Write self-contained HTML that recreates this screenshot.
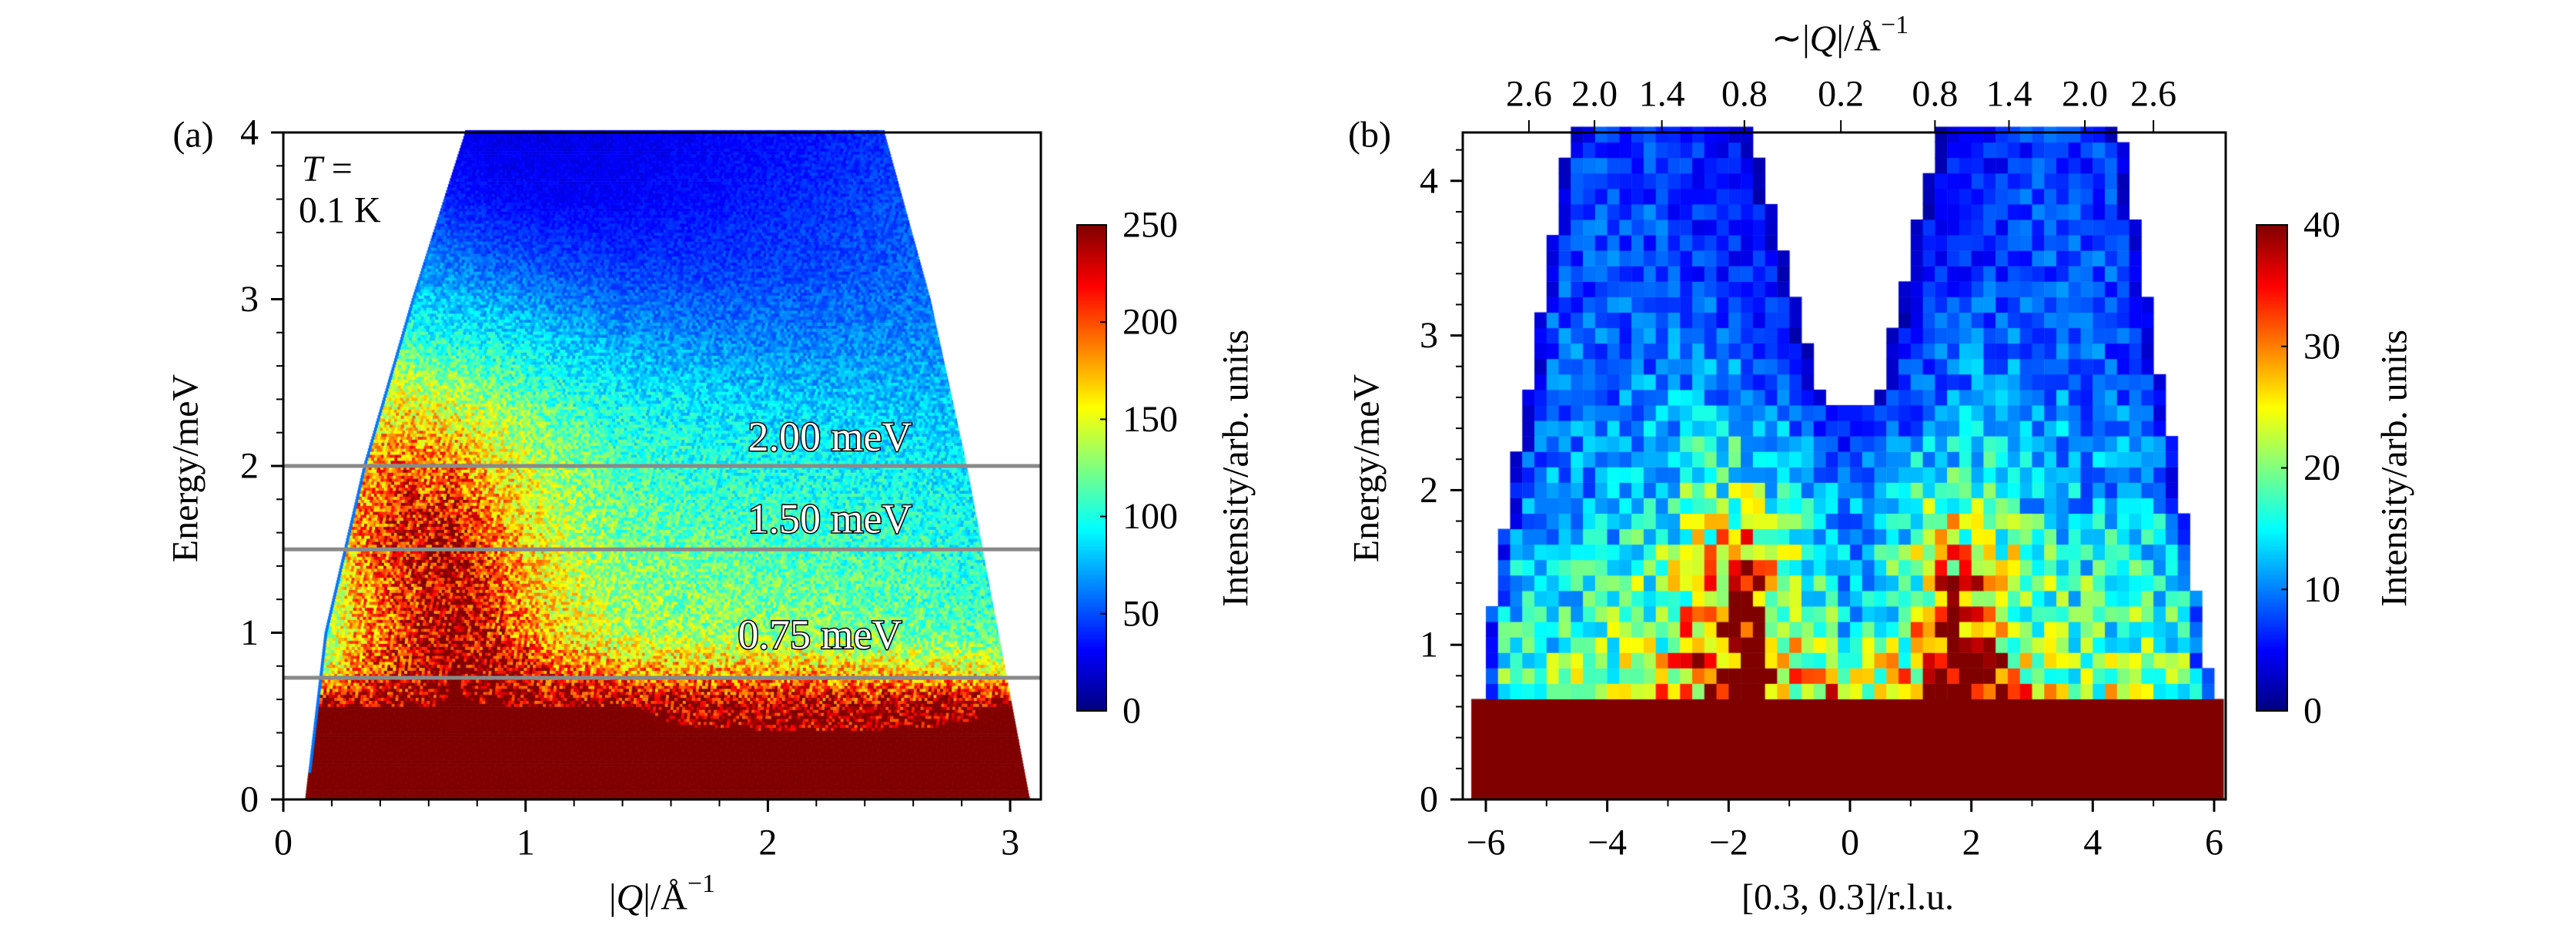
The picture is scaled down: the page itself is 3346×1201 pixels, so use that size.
<!DOCTYPE html>
<html><head><meta charset="utf-8">
<style>
html,body{margin:0;padding:0;background:#fff;}
#root{position:relative;width:3346px;height:1201px;overflow:hidden;font-family:"Liberation Serif",serif;}
canvas,svg{position:absolute;left:0;top:0;}
</style></head>
<body>
<div id="root">
<canvas id="cv" width="3346" height="1201"></canvas>
<svg id="sv" width="3346" height="1201"></svg>
</div>
<script>
// ---------- Panel (a) data ----------
const aQ = [0.1,0.3,0.5,0.7,0.9,1.1,1.4,1.8,2.2,2.6,3.0];
const aE = [0.4,0.55,0.75,1.0,1.3,1.6,2.0,2.4,2.8,3.2,3.6,4.0];
const aI = [
 [250,250,250,250,250,250,250,250,250,250,250],
 [250,250,250,250,250,250,250,245,240,245,250],
 [130,190,220,250,240,210,185,180,180,170,160],
 [90,175,215,245,210,165,135,130,125,120,110],
 [80,175,210,240,195,155,128,122,118,112,100],
 [80,185,225,230,185,145,122,112,108,102,95],
 [70,170,200,190,160,135,110,100,95,92,88],
 [60,140,150,140,125,110,95,85,80,78,78],
 [50,100,105,95,88,80,68,62,62,64,66],
 [40,70,70,62,55,50,45,45,48,55,58],
 [35,50,45,38,32,30,30,35,42,50,55],
 [35,42,36,28,24,24,26,30,36,45,50]];
const aLeftE = [0,1,2,3,4], aLeftQ = [0.09,0.17,0.33,0.53,0.75];
const aRightE = [0,1,2,3,4], aRightQ = [3.08,2.95,2.82,2.67,2.48];
const aCuts = [2.0,1.5,0.73];
const aCutLabels = ["2.00 meV","1.50 meV","0.75 meV"];
const aXTicks = [0,1,2,3], aYTicks = [0,1,2,3,4];
const aCbTicks = [0,50,100,150,200,250];
// ---------- Panel (b) data ----------
const bX = [-6,-5,-4,-3,-2.5,-1.75,-1,0,1,1.6,2.5,3,4,5,6];
const bE = [0.65,1.0,1.2,1.5,1.8,2.1,2.5,3.0,3.5,4.3];
const bI = [
 [20,20,22,28,34,48,30,28,30,48,34,24,22,22,22],
 [14,16,18,22,30,44,26,16,22,44,28,20,18,18,18],
 [13,15,17,21,28,40,23,13,20,36,26,19,17,17,16],
 [12,14,15,19,26,32,20,12,18,30,24,18,16,15,14],
 [10,12,13,16,21,24,17,11,16,23,19,15,13,13,12],
 [8,10,11,13,16,17,13,8,13,17,15,12,11,11,10],
 [7,9,10,11,12,12,9,4,9,12,12,11,10,9,8],
 [6,8,9,9,9,8,6,4,6,8,9,9,8,8,7],
 [5,7,8,8,7,6,5,4,5,6,7,8,8,7,6],
 [5,6,7,7,6,5,4,4,4,5,6,7,7,6,5]];
const bOuterE = [0.65,1.0,4.3], bOuterL = [-6.0,-6.0,-4.64], bOuterR = [5.95,5.84,4.48];
const bInnerE = [2.55,4.3], bInnerL = [-0.45,-1.58], bInnerR = [0.45,1.42];
const bXTicks = [-6,-4,-2,0,2,4,6], bYTicks = [0,1,2,3,4];
const bTopPos = [-5.29,-4.21,-3.10,-1.74,-0.15,1.40,2.62,3.87,5.0];
const bTopLab = ["2.6","2.0","1.4","0.8","0.2","0.8","1.4","2.0","2.6"];
const bCbTicks = [0,10,20,30,40];

// ---------- helpers ----------
function jet(v){
  v=Math.max(0,Math.min(1,v));
  function c(x){return Math.max(0,Math.min(1,x));}
  const r=c(Math.min(4*v-1.5,-4*v+4.5)), g=c(Math.min(4*v-0.5,-4*v+3.5)), b=c(Math.min(4*v+0.5,-4*v+2.5));
  return 'rgb('+Math.round(r*255)+','+Math.round(g*255)+','+Math.round(b*255)+')';
}
function interp1(xs,ys,x){
  if(x<=xs[0])return ys[0]; if(x>=xs[xs.length-1])return ys[ys.length-1];
  for(let i=0;i<xs.length-1;i++){ if(x<=xs[i+1]){const t=(x-xs[i])/(xs[i+1]-xs[i]);return ys[i]+t*(ys[i+1]-ys[i]);} }
}
function bilin(xs,es,grid,x,e){
  const col=xs.map((_,j)=>interp1(es,grid.map(r=>r[j]),e));
  return interp1(xs,col,x);
}
// deterministic texture (visual grain only)
function grain(i,j){let h=(i*374761393+j*668265263)|0;h=(h^(h>>>13))*1274126177|0;h=h^(h>>>16);return ((h>>>0)%10000)/10000-0.5;}
const ax=q=>368+q*314.7, ay=e=>1038-e*216.5;
const bx=x=>1930+(x+6)*78.83, by=e=>1038-e*200.8;
const cbY=(v,max)=>923-(v/max)*(923-292);

const cv=document.getElementById('cv'), ctx=cv.getContext('2d');
// panel a heatmap
const dq=0.012, de=0.018;
let ie=0;
for(let e=0;e<4;e+=de,ie++){
  const ql=interp1(aLeftE,aLeftQ,e+de/2), qr=interp1(aRightE,aRightQ,e+de/2);
  for(let q=ql;q<qr;q+=dq){
    let v=bilin(aQ,aE,aI,q+dq/2,e+de/2);
    if(v<249) v*=1+0.45*grain(ie,Math.round(q/dq));
    if(q-ql<0.01 && e>0.15) v=Math.min(v,60);
    ctx.fillStyle=jet(v/250);
    const xa=ax(q), xb=ax(Math.min(q+dq,qr));
    ctx.fillRect(xa,ay(e+de),xb-xa+0.6,ay(e)-ay(e+de)+0.6);
  }
}
// panel b heatmap
ctx.fillStyle=jet(1);
ctx.fillRect(bx(-6.24),by(0.65),bx(6.16)-bx(-6.24),by(0)-by(0.65));
const cw=0.2, ch=0.1;
let je=0;
for(let e=0.65;e<4.3-1e-6;e+=ch,je++){
  const em=e+ch/2;
  const ol=interp1(bOuterE,bOuterL,em), orr=interp1(bOuterE,bOuterR,em);
  let jx=0;
  for(let x=-6.2;x<6.2;x+=cw,jx++){
    const xm=x+cw/2;
    if(xm<ol||xm>orr) continue;
    let il=99,ir=-99;
    if(em>bInnerE[0]){ il=interp1(bInnerE,bInnerL,em); ir=interp1(bInnerE,bInnerR,em); if(xm>il&&xm<ir) continue; }
    let v=bilin(bX,bE,bI,xm,em);
    v*=1+0.8*grain(je+50,jx+7);
    if(xm-ol<0.2||orr-xm<0.2) v*=0.5;
    if(em>bInnerE[0]-0.15 && (Math.abs(xm-il)<0.2||Math.abs(xm-ir)<0.2)) v*=0.45;
    ctx.fillStyle=jet(v/40);
    ctx.fillRect(bx(x),by(e+ch),bx(x+cw)-bx(x)+0.5,by(e)-by(e+ch)+0.5);
  }
}
// colorbars
for(let y=292;y<923;y++){ ctx.fillStyle=jet((923-y)/631); ctx.fillRect(1399,y,38,1); ctx.fillRect(2931,y,40,1); }

// ---------- SVG overlay ----------
const NS='http://www.w3.org/2000/svg', sv=document.getElementById('sv');
function el(t,at,txt){const e=document.createElementNS(NS,t);for(const k in at)e.setAttribute(k,at[k]);if(txt!==undefined)e.textContent=txt;sv.appendChild(e);return e;}
function line(x1,y1,x2,y2,w,c){return el('line',{x1,y1,x2,y2,stroke:c||'#000','stroke-width':w||3});}
function text(x,y,s,anchor,size,extra){const a={x,y,'font-size':size||48,'text-anchor':anchor||'middle','dominant-baseline':'central','font-family':'Liberation Serif, serif'};if(extra)for(const k in extra)a[k]=extra[k];return el('text',a,s);}

aCuts.forEach((c,i)=>{
  const l=line(368,ay(c),1352,ay(c),5,'#8a8a8a');
  
  
});
const cutLabY=[ay(2.0)-38, ay(1.5)-40, ay(0.73)-56];
const cutLabX=[1078,1078,1065];
aCutLabels.forEach((s,i)=>{
  const t=text(cutLabX[i],cutLabY[i],s,'middle',54,{fill:'#fff',stroke:'#000','stroke-width':3,'paint-order':'stroke'});
  
  
});
const fa=el('rect',{x:368,y:172,width:984,height:866,fill:'none',stroke:'#000','stroke-width':3});


aXTicks.forEach(q=>{line(ax(q),1038,ax(q),1054);const t=text(ax(q),1094,String(q));});
for(let q=0.2;q<3.1;q+=0.2){line(ax(q),1038,ax(q),1047,2);}
aYTicks.forEach(e=>{line(352,ay(e),368,ay(e));const t=text(336,ay(e),String(e),'end');});
for(let e=0.2;e<4;e+=0.2){line(359,ay(e),368,ay(e),2);}
let t;
t=text(251,175,'(a)');
t=text(392,219,'','start');t.innerHTML='<tspan font-style="italic">T</tspan> =';
t=text(388,273,'0.1 K','start');
t=text(241,608,'Energy/meV','middle',48,{transform:'rotate(-90 241 608)'});
t=text(860,1165,'');t.innerHTML='|<tspan font-style="italic">Q</tspan>|/Å<tspan font-size="34" dy="-18">−1</tspan>';
t=el('rect',{x:1399,y:292,width:38,height:631,fill:'none',stroke:'#000','stroke-width':2});
aCbTicks.forEach(v=>{line(1429,cbY(v,250),1437,cbY(v,250),2);const s=text(1458,cbY(v,250),String(v),'start');});
t=text(1605,608,'Intensity/arb. units','middle',48,{transform:'rotate(-90 1605 608)'});

const fb=el('rect',{x:1900,y:172,width:991,height:866,fill:'none',stroke:'#000','stroke-width':3});


bXTicks.forEach(x=>{line(bx(x),1038,bx(x),1054);const s=text(bx(x),1094,x<0?'−'+(-x):String(x));});
for(let x=-5;x<=5;x+=2){line(bx(x),1038,bx(x),1047,2);}
bYTicks.forEach(e=>{line(1884,by(e),1900,by(e));const s=text(1868,by(e),String(e),'end');});
for(let e=0.2;e<4.3;e+=0.2){line(1891,by(e),1900,by(e),2);}
bTopPos.forEach((p,i)=>{line(bx(p),172,bx(p),156,2);const s=text(bx(p),122,bTopLab[i]);});
t=text(2390,50,'');t.innerHTML='∼|<tspan font-style="italic">Q</tspan>|/Å<tspan font-size="34" dy="-18">−1</tspan>';
t=text(1779,175,'(b)');
t=text(1775,608,'Energy/meV','middle',48,{transform:'rotate(-90 1775 608)'});
t=text(2400,1165,'[0.3, 0.3]/r.l.u.');
t=el('rect',{x:2931,y:292,width:40,height:631,fill:'none',stroke:'#000','stroke-width':2});
bCbTicks.forEach(v=>{line(2963,cbY(v,40),2971,cbY(v,40),2);const s=text(2992,cbY(v,40),String(v),'start');});
t=text(3110,608,'Intensity/arb. units','middle',48,{transform:'rotate(-90 3110 608)'});
</script>
</body></html>
